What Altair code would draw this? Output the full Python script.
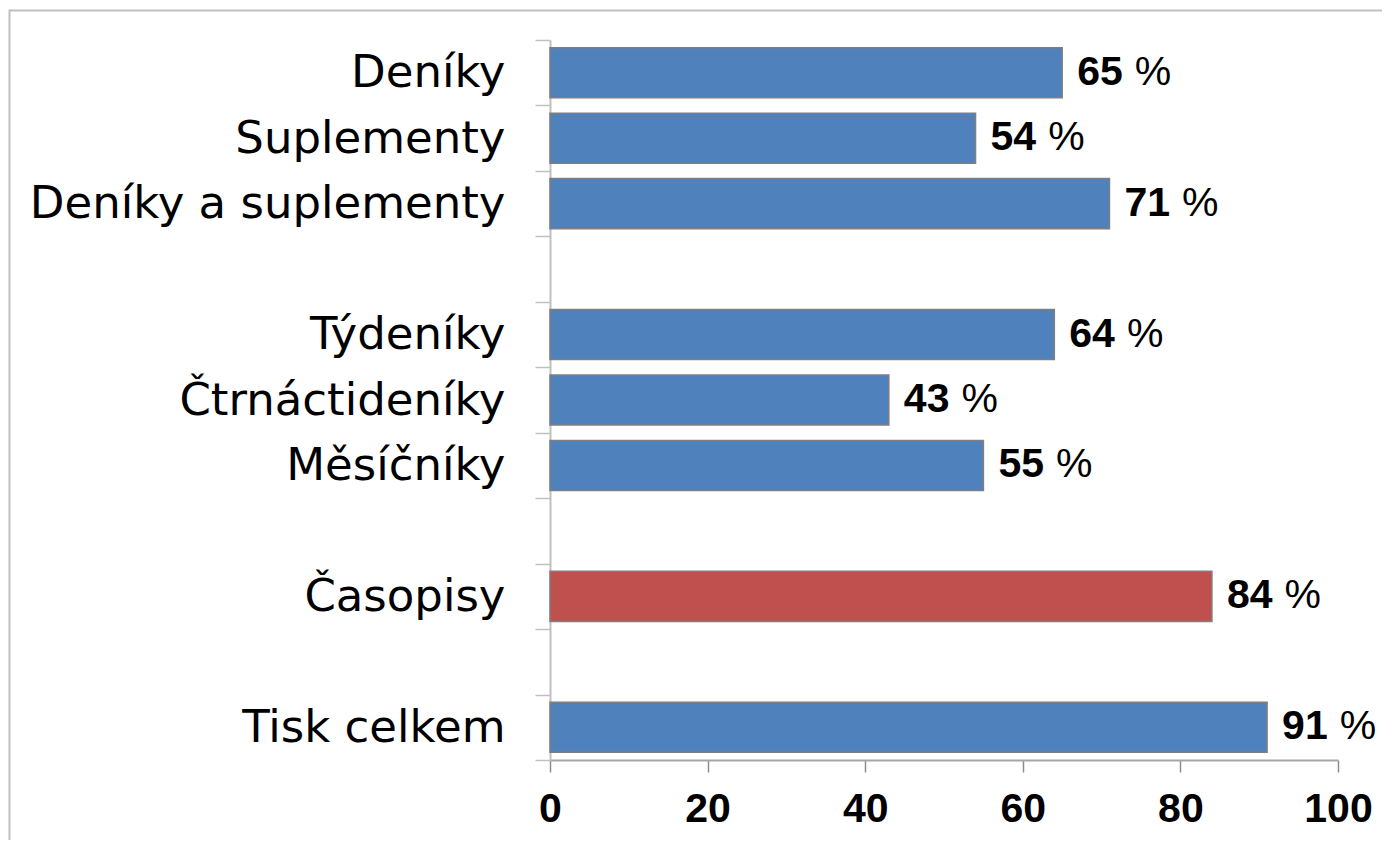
import altair as alt
import pandas as pd

categories = ["Deníky", "Suplementy", "Deníky a suplementy", " ",
              "Týdeníky", "Čtrnáctideníky", "Měsíčníky", "  ",
              "Časopisy", "   ", "Tisk celkem"]
values = [65, 54, 71, None, 64, 43, 55, None, 84, None, 91]
highlighted = ["Časopisy"]
x_ticks = [0, 20, 40, 60, 80, 100]

df = pd.DataFrame({"category": categories, "value": values})
df = df[df["value"].notna()].copy()
df["num"] = df["value"].astype(int).astype(str)

BLUE = "#4F81BD"
RED = "#C0504D"
NUM_FS = 41

y_enc = alt.Y("category:N", sort=categories,
              scale=alt.Scale(domain=categories, paddingInner=0, paddingOuter=0),
              axis=alt.Axis(title=None, tickBand="extent", tickSize=15, tickColor="#c0c0c0",
                            tickWidth=1.5, domainColor="#c0c0c0", domainWidth=2,
                            labelFont="DejaVu Sans", labelFontSize=45, labelColor="black",
                            labelPadding=30, labelLimit=700))
x_enc = alt.X("value:Q", scale=alt.Scale(domain=[0, 100], nice=False),
              axis=alt.Axis(title=None, values=x_ticks, grid=False, tickSize=12,
                            tickColor="#8c8c8c", tickWidth=1.5, domainColor="#a6a6a6",
                            domainWidth=2, labelFont="Liberation Sans", labelFontSize=41,
                            labelFontWeight="bold", labelColor="black", labelPadding=17,
                            labelFlush=False))

base = alt.Chart(df)

bars = base.mark_bar(stroke="#7f7f7f", strokeWidth=1.5, height={"band": 0.765}).encode(
    y=y_enc, x=x_enc,
    color=alt.condition(alt.FieldOneOfPredicate(field="category", oneOf=highlighted),
                        alt.value(RED), alt.value(BLUE)),
)

nums = base.mark_text(align="left", baseline="middle", dx=15, font="Liberation Sans",
                      fontSize=NUM_FS, fontWeight="bold", color="black").encode(
    y=alt.Y("category:N", sort=categories), x="value:Q", text="num:N")

pct = base.mark_text(align="left", baseline="middle", dx=18 + 2 * 0.556 * NUM_FS + 0.22 * NUM_FS,
                     font="Liberation Sans", fontSize=NUM_FS, color="black").encode(
    y=alt.Y("category:N", sort=categories), x="value:Q", text=alt.value("%"))

border_top = alt.Chart(pd.DataFrame({"a": [0]})).mark_rule(color="#c0c0c0", strokeWidth=2).encode(
    x=alt.value(-540.5), x2=alt.value(900), y=alt.value(-29.5))
border_left = alt.Chart(pd.DataFrame({"a": [0]})).mark_rule(color="#c0c0c0", strokeWidth=2).encode(
    x=alt.value(-540.5), y=alt.value(-30.5), y2=alt.value(900))

chart = alt.layer(bars, nums, pct, border_top, border_left).properties(
    width=788, height=720,
    background="white",
    autosize=alt.AutoSizeParams(type="none"),
    padding={"left": 542, "top": 32, "right": 44, "bottom": 80},
).configure_view(stroke=None)

chart.save("out.html", embed_options={"renderer": "svg", "actions": False})
